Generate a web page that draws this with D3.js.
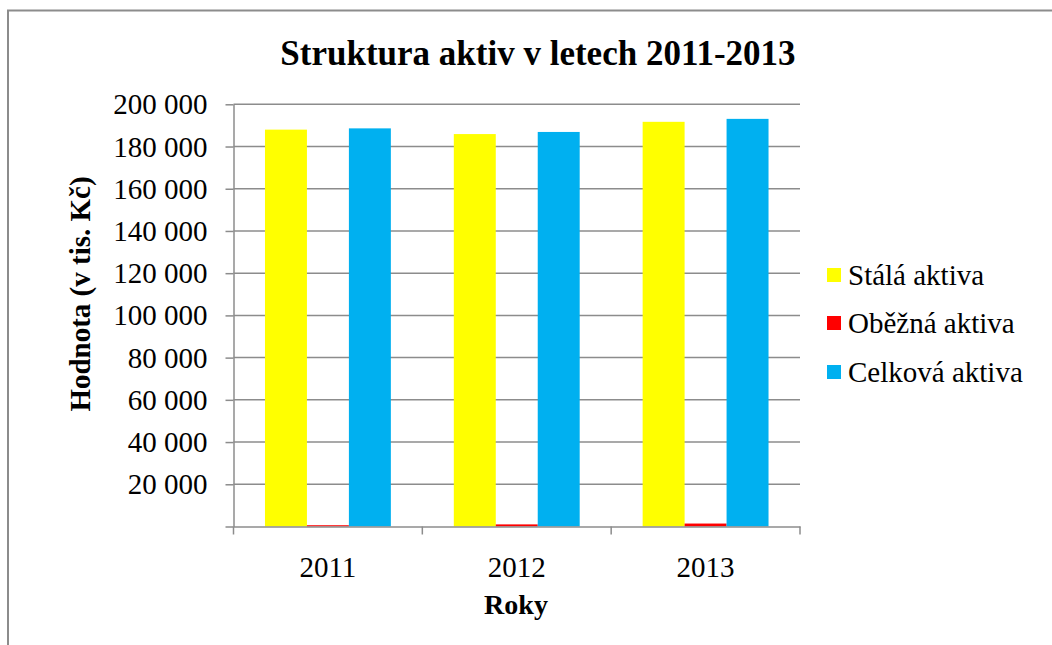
<!DOCTYPE html>
<html><head><meta charset="utf-8">
<script src="https://cdn.jsdelivr.net/npm/d3@7/dist/d3.min.js"></script>
<style>body{margin:0;background:#fff}svg{display:block}</style>
</head><body>
<svg id="c" width="1052" height="645"></svg>
<script>
(function(){
const years = ["2011", "2012", "2013"];
const seriesNames = ["Stálá aktiva", "Oběžná aktiva", "Celková aktiva"];
const stalaAktiva = [188000, 185900, 191700];
const obeznaAktiva = [600, 1000, 1400];
const celkovaAktiva = [188600, 186900, 193100];
const colors = ["#FFFF00", "#FF0000", "#00B0F0"];
const yTicks = [0, 20000, 40000, 60000, 80000, 100000, 120000, 140000, 160000, 180000, 200000];

const seriesValues = [stalaAktiva, obeznaAktiva, celkovaAktiva];
const svg = d3.select("#c");
const font = "'Liberation Serif','Times New Roman',serif";

// outer border
svg.append("rect").attr("x", 8).attr("y", 10.5).attr("width", 1100).attr("height", 700)
  .attr("fill", "none").attr("stroke", "#8c8c8c").attr("stroke-width", 2);

const pLeft = 233.5, pRight = 800, pTop = 104.3, pBottom = 526.5;
const x = d3.scaleBand().domain(years).range([pLeft, pRight]).paddingInner(0).paddingOuter(0);
const y = d3.scaleLinear().domain([0, 200000]).range([pBottom, pTop]);
const fmt = v => v === 0 ? "" : d3.format(",")(v).replace(/,/g, " ");

// gridlines
svg.append("g").selectAll("line").data(yTicks.filter(d => d > 0)).join("line")
  .attr("x1", pLeft).attr("x2", pRight).attr("y1", d => y(d)).attr("y2", d => y(d))
  .attr("stroke", "#8c8c8c").attr("stroke-width", 1.5);

// bars
const inner = x.bandwidth() * (2 / 3);
const sub = d3.scaleBand().domain(d3.range(seriesNames.length)).range([0, inner]);
const off = (x.bandwidth() - inner) / 2;
seriesValues.forEach((vals, si) => {
  svg.append("g").selectAll("rect").data(vals).join("rect")
    .attr("x", (d, i) => x(years[i]) + off + sub(si))
    .attr("width", sub.bandwidth())
    .attr("y", d => y(d))
    .attr("height", d => pBottom - y(d))
    .attr("fill", colors[si]);
});

// y axis
const yAxis = d3.axisLeft(y).tickValues(yTicks).tickFormat(fmt).tickSize(8).tickSizeOuter(0);
const gy = svg.append("g").attr("transform", `translate(${pLeft},0)`).call(yAxis);
gy.select(".domain").attr("stroke", "#8c8c8c").attr("stroke-width", 1.5);
gy.selectAll(".tick line").attr("stroke", "#8c8c8c").attr("stroke-width", 1.5);
gy.selectAll(".tick text").attr("font-family", font).attr("font-size", 29).attr("fill", "#000").attr("x", -26).attr("dy", "0.33em");

// x axis
const xAxis = d3.axisBottom(x).tickSize(0).tickSizeOuter(0);
const gx = svg.append("g").attr("transform", `translate(0,${pBottom})`).call(xAxis);
gx.select(".domain").attr("stroke", "#8c8c8c").attr("stroke-width", 1.5);
gx.selectAll(".tick text").attr("font-family", font).attr("font-size", 29).attr("fill", "#000").attr("dy", 0).attr("y", 50);
const bounds = years.map(d => x(d)).concat([pRight]);
gx.append("g").selectAll("line").data(bounds).join("line")
  .attr("x1", d => d).attr("x2", d => d).attr("y1", 0).attr("y2", 8)
  .attr("stroke", "#8c8c8c").attr("stroke-width", 1.5);

// titles
svg.append("text").attr("x", 538).attr("y", 65).attr("text-anchor", "middle")
  .attr("font-family", font).attr("font-weight", "bold").attr("font-size", 35).text("Struktura aktiv v letech 2011-2013");
svg.append("text").attr("x", 516).attr("y", 614).attr("text-anchor", "middle")
  .attr("font-family", font).attr("font-weight", "bold").attr("font-size", 28).text("Roky");
svg.append("text").attr("transform", "translate(90,294) rotate(-90)").attr("text-anchor", "middle")
  .attr("font-family", font).attr("font-weight", "bold").attr("font-size", 29).text("Hodnota (v tis. Kč)");

// legend
const lg = svg.append("g");
const rowY = [275, 323, 372];
seriesNames.forEach((n, i) => {
  lg.append("rect").attr("x", 827).attr("y", rowY[i] - 7).attr("width", 14).attr("height", 14).attr("fill", colors[i]);
  lg.append("text").attr("x", 848).attr("y", rowY[i] + 10).attr("font-family", font).attr("font-size", 29).text(n);
});
})();
</script>
</body></html>
